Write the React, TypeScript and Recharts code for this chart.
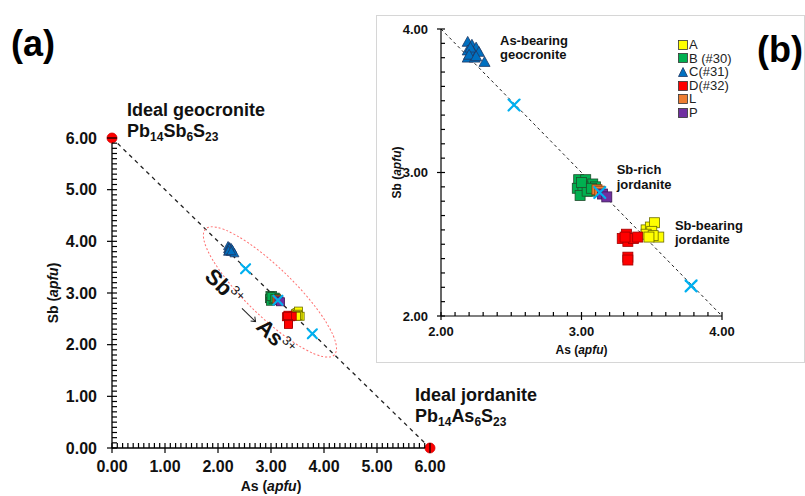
import React from 'react';
import { ScatterChart, Scatter, XAxis, YAxis, ReferenceLine, ReferenceDot } from 'recharts';

const FONT = "Arial, 'Liberation Sans', sans-serif";

// analyses as (As, Sb) in apfu
const seriesA = [
  { as: 3.46, sb: 2.6 }, { as: 3.49, sb: 2.62 }, { as: 3.52, sb: 2.65 }, { as: 3.5, sb: 2.59 },
  { as: 3.46, sb: 2.57 }, { as: 3.55, sb: 2.55 }, { as: 3.51, sb: 2.56 }, { as: 3.48, sb: 2.55 },
];
const seriesB = [
  { as: 2.98, sb: 2.95 }, { as: 3.03, sb: 2.95 }, { as: 3.08, sb: 2.92 }, { as: 2.97, sb: 2.89 },
  { as: 3.01, sb: 2.9 }, { as: 3.06, sb: 2.87 }, { as: 2.99, sb: 2.84 }, { as: 3.04, sb: 2.87 },
  { as: 3.1, sb: 2.9 }, { as: 3.0, sb: 2.93 }, { as: 3.07, sb: 2.89 },
];
const seriesC = [
  { as: 2.19, sb: 3.91 }, { as: 2.22, sb: 3.89 }, { as: 2.25, sb: 3.87 }, { as: 2.19, sb: 3.85 },
  { as: 2.23, sb: 3.84 }, { as: 2.27, sb: 3.84 }, { as: 2.19, sb: 3.8 }, { as: 2.24, sb: 3.8 },
  { as: 2.31, sb: 3.77 }, { as: 2.21, sb: 3.87 }, { as: 2.2, sb: 3.82 }, { as: 2.25, sb: 3.81 },
];
const seriesD = [
  { as: 3.29, sb: 2.54 }, { as: 3.32, sb: 2.57 }, { as: 3.33, sb: 2.52 }, { as: 3.37, sb: 2.54 },
  { as: 3.4, sb: 2.55 }, { as: 3.31, sb: 2.55 }, { as: 3.33, sb: 2.41 }, { as: 3.33, sb: 2.39 },
];
const seriesL = [{ as: 3.11, sb: 2.88 }, { as: 3.13, sb: 2.87 }];
const seriesP = [{ as: 3.15, sb: 2.85 }, { as: 3.18, sb: 2.83 }];
const calcPoints = [{ as: 2.52, sb: 3.47 }, { as: 3.13, sb: 2.86 }, { as: 3.78, sb: 2.21 }];
const idealPoints = [{ as: 0, sb: 6 }, { as: 6, sb: 0 }];

const mainMajorTicks = [0, 1, 2, 3, 4, 5, 6];
const insetMajorTicks = [2, 3, 4];

const geocroniteFormula: [string, boolean][] = [['Pb', false], ['14', true], ['Sb', false], ['6', true], ['S', false], ['23', true]];
const jordaniteFormula: [string, boolean][] = [['Pb', false], ['14', true], ['As', false], ['6', true], ['S', false], ['23', true]];

const SERIES = [
  { name: 'A', data: seriesA, fill: '#ffff00', stroke: '#6b6b00', kind: 'square' },
  { name: 'B (#30)', data: seriesB, fill: '#00b050', stroke: '#1e4d2b', kind: 'square' },
  { name: 'C(#31)', data: seriesC, fill: '#0070c0', stroke: '#1f3864', kind: 'triangle' },
  { name: 'D(#32)', data: seriesD, fill: '#ff0000', stroke: '#a00000', kind: 'square' },
  { name: 'L', data: seriesL, fill: '#ed7d31', stroke: '#7f3f10', kind: 'square' },
  { name: 'P', data: seriesP, fill: '#7030a0', stroke: '#3b1856', kind: 'square' },
];

const withMinor = (majors: number[]) => {
  const out: number[] = [];
  majors.forEach((m, i) => {
    out.push(m);
    const next = majors[i + 1];
    if (next === undefined) return;
    for (let k = 1; k < 10; k++) out.push(Math.round((m + ((next - m) * k) / 10) * 100) / 100);
  });
  return out;
};

const isMajor = (v: number) => Math.abs(v - Math.round(v)) < 1e-6;

function makeXTick(fontSize: number, labelDy: number, inner: number, outer: number) {
  return (p: any) => {
    const { x, y, payload } = p;
    const big = isMajor(payload.value);
    return (
      <g>
        <line x1={x} x2={x} y1={y - inner} y2={big ? y + outer : y} stroke="#000" strokeWidth={1.2} />
        {big && (
          <text x={x} y={y + labelDy} textAnchor="middle" fontSize={fontSize} fontWeight="bold" fontFamily={FONT} fill="#111">
            {payload.value.toFixed(2)}
          </text>
        )}
      </g>
    );
  };
}

function makeYTick(fontSize: number, labelDx: number, inner: number, outer: number) {
  return (p: any) => {
    const { x, y, payload } = p;
    const big = isMajor(payload.value);
    return (
      <g>
        <line x1={big ? x - outer : x} x2={x + inner} y1={y} y2={y} stroke="#000" strokeWidth={1.2} />
        {big && (
          <text x={x - labelDx} y={y + fontSize * 0.36} textAnchor="end" fontSize={fontSize} fontWeight="bold" fontFamily={FONT} fill="#111">
            {payload.value.toFixed(2)}
          </text>
        )}
      </g>
    );
  };
}

function markerShape(kind: string, size: number, fill: string, stroke: string) {
  return (p: any) => {
    const { cx, cy } = p;
    if (cx == null || cy == null) return <g />;
    const h = size / 2;
    if (kind === 'triangle') {
      return (
        <polygon
          points={`${cx},${cy - h} ${cx + h},${cy + h * 0.8} ${cx - h},${cy + h * 0.8}`}
          fill={fill}
          stroke={stroke}
          strokeWidth={0.8}
        />
      );
    }
    return <rect x={cx - h} y={cy - h} width={size} height={size} fill={fill} stroke={stroke} strokeWidth={0.8} />;
  };
}

function crossShape(size: number) {
  return (p: any) => {
    const { cx, cy } = p;
    const h = size / 2;
    return (
      <g stroke="#00b0f0" strokeWidth={2.2} strokeLinecap="round">
        <line x1={cx - h} y1={cy - h} x2={cx + h} y2={cy + h} />
        <line x1={cx - h} y1={cy + h} x2={cx + h} y2={cy - h} />
      </g>
    );
  };
}

const idealShape = (p: any) => <circle cx={p.cx} cy={p.cy} r={5} fill="#ff0000" stroke="#d00000" strokeWidth={0.8} />;

function FormulaText({ x, y, parts }: { x: number; y: number; parts: [string, boolean][] }) {
  return (
    <text x={x} y={y} fontFamily={FONT} fontWeight="bold" fontSize={18} fill="#111">
      {parts.map(([t, sub], i) => (
        <tspan key={i} fontSize={sub ? 12 : 18} dy={i === 0 ? 0 : sub ? 4 : -4}>
          {t}
        </tspan>
      ))}
    </text>
  );
}

function AxisTitleX({ viewBox, dy, size, label }: any) {
  const { x, y, width } = viewBox;
  return (
    <text x={x + width / 2} y={y + dy} textAnchor="middle" fontFamily={FONT} fontWeight="bold" fontSize={size} fill="#111">
      {label} (<tspan fontStyle="italic">apfu</tspan>)
    </text>
  );
}

function AxisTitleY({ viewBox, dx, size, label }: any) {
  const { x, y, width, height } = viewBox;
  const cx = x + width - dx;
  const cy = y + height / 2;
  return (
    <text
      x={cx}
      y={cy}
      transform={`rotate(-90 ${cx} ${cy})`}
      textAnchor="middle"
      dominantBaseline="central"
      fontFamily={FONT}
      fontWeight="bold"
      fontSize={size}
      fill="#111"
    >
      {label} (<tspan fontStyle="italic">apfu</tspan>)
    </text>
  );
}

function twoLines(a: string, b: string, gap: number, size: number) {
  return (p: any) => (
    <text x={p.cx} y={p.cy} fontFamily={FONT} fontWeight="bold" fontSize={size} fill="#111">
      <tspan x={p.cx}>{a}</tspan>
      <tspan x={p.cx} dy={gap}>{b}</tspan>
    </text>
  );
}

// Sb3+ -> As3+ substitution label, laid along the tie line
function SubstitutionLabel(p: any) {
  const { cx, cy } = p;
  return (
    <g transform={`rotate(44.3 ${cx} ${cy})`} fontFamily={FONT} fill="#111">
      <text x={cx - 15} y={cy + 7} textAnchor="end">
        <tspan fontSize={22} fontWeight="bold">Sb</tspan>
        <tspan fontSize={13} dy={-9}>3+</tspan>
      </text>
      <line x1={cx - 9} y1={cy + 2} x2={cx + 10} y2={cy + 2} stroke="#222" strokeWidth={1} />
      <polyline points={`${cx + 6},${cy - 1} ${cx + 10},${cy + 2} ${cx + 6},${cy + 5}`} fill="none" stroke="#222" strokeWidth={1} />
      <text x={cx + 14} y={cy + 7} textAnchor="start">
        <tspan fontSize={22} fontWeight="bold">As</tspan>
        <tspan fontSize={13} dy={-9}>3+</tspan>
      </text>
    </g>
  );
}

function MainChart() {
  const ticks = withMinor(mainMajorTicks);
  return (
    <ScatterChart width={560} height={496} margin={{ top: 138, right: 130, bottom: 0, left: 0 }}>
      <XAxis
        type="number"
        dataKey="as"
        domain={[0, 6]}
        ticks={ticks}
        interval={0}
        tickSize={0}
        tickMargin={0}
        tickLine={false}
        height={48}
        axisLine={{ stroke: '#000', strokeWidth: 1.3 }}
        tick={makeXTick(16, 24, 5, 5)}
        label={<AxisTitleX dy={43} size={14} label="As" />}
      />
      <YAxis
        type="number"
        dataKey="sb"
        domain={[0, 6]}
        ticks={ticks}
        interval={0}
        width={112}
        tickSize={0}
        tickMargin={0}
        tickLine={false}
        axisLine={{ stroke: '#000', strokeWidth: 1.3 }}
        tick={makeYTick(16, 15, 5, 5)}
        label={<AxisTitleY dx={59} size={14} label="Sb" />}
      />
      <ReferenceLine segment={[{ x: 0, y: 6 }, { x: 6, y: 0 }]} stroke="#222" strokeWidth={1.3} strokeDasharray="4 4" />
      <ReferenceDot
        x={2.98}
        y={3.02}
        shape={(p: any) => (
          <ellipse
            cx={p.cx}
            cy={p.cy}
            rx={90}
            ry={24}
            transform={`rotate(44.3 ${p.cx} ${p.cy})`}
            fill="none"
            stroke="#ff7070"
            strokeWidth={1}
            strokeDasharray="2 2"
          />
        )}
      />
      {SERIES.map((s) => (
        <Scatter
          key={s.name}
          name={s.name}
          data={s.data}
          isAnimationActive={false}
          shape={markerShape(s.kind, s.kind === 'triangle' ? 9 : 8, s.fill, s.stroke)}
        />
      ))}
      <Scatter data={calcPoints} isAnimationActive={false} shape={crossShape(9)} />
      <Scatter data={idealPoints} isAnimationActive={false} shape={idealShape} />
      <ReferenceDot x={2.6} y={2.61} shape={SubstitutionLabel} />
      <ReferenceDot
        x={0}
        y={6}
        shape={(p: any) => (
          <g>
            <text x={p.cx + 15} y={p.cy - 22} fontFamily={FONT} fontWeight="bold" fontSize={18} fill="#111">
              Ideal geocronite
            </text>
            <FormulaText x={p.cx + 15} y={p.cy - 1} parts={geocroniteFormula} />
          </g>
        )}
      />
      <ReferenceDot
        x={6}
        y={0}
        shape={(p: any) => (
          <g>
            <text x={p.cx - 15} y={p.cy - 47} fontFamily={FONT} fontWeight="bold" fontSize={18} fill="#111">
              Ideal jordanite
            </text>
            <FormulaText x={p.cx - 15} y={p.cy - 26} parts={jordaniteFormula} />
          </g>
        )}
      />
    </ScatterChart>
  );
}

function InsetChart() {
  const ticks = withMinor(insetMajorTicks);
  return (
    <div
      style={{
        position: 'absolute',
        left: 376,
        top: 15,
        width: 427,
        height: 346,
        border: '1px solid #d6d6d6',
        background: '#fff',
      }}
    >
      <ScatterChart width={427} height={346} margin={{ top: 13, right: 82, bottom: 0, left: 0 }}>
        <XAxis
          type="number"
          dataKey="as"
          domain={[2, 4]}
          ticks={ticks}
          interval={0}
          tickSize={0}
          tickMargin={0}
          tickLine={false}
          height={46}
          axisLine={{ stroke: '#000', strokeWidth: 1.2 }}
          tick={makeXTick(13, 20, 4, 4)}
          label={<AxisTitleX dy={38} size={12} label="As" />}
        />
        <YAxis
          type="number"
          dataKey="sb"
          domain={[2, 4]}
          ticks={ticks}
          interval={0}
          width={64}
          tickSize={0}
          tickMargin={0}
          tickLine={false}
          axisLine={{ stroke: '#000', strokeWidth: 1.2 }}
          tick={makeYTick(13, 13, 4, 4)}
          label={<AxisTitleY dx={44} size={12} label="Sb" />}
        />
        <ReferenceLine segment={[{ x: 2, y: 4 }, { x: 4, y: 2 }]} stroke="#222" strokeWidth={1} strokeDasharray="3 3" />
        {SERIES.map((s) => (
          <Scatter
            key={s.name}
            name={s.name}
            data={s.data}
            isAnimationActive={false}
            shape={markerShape(s.kind, s.kind === 'triangle' ? 11 : 10, s.fill, s.stroke)}
          />
        ))}
        <Scatter data={calcPoints} isAnimationActive={false} shape={crossShape(11)} />
        <ReferenceDot x={2.42} y={3.89} shape={twoLines('As-bearing', 'geocronite', 14, 13)} />
        <ReferenceDot x={3.25} y={2.99} shape={twoLines('Sb-rich', 'jordanite', 15, 13)} />
        <ReferenceDot x={3.665} y={2.6} shape={twoLines('Sb-bearing', 'jordanite', 14, 13)} />
      </ScatterChart>
      <div style={{ position: 'absolute', left: 301, top: 22, fontFamily: FONT, fontSize: 13, color: '#222' }}>
        {SERIES.map((s) => (
          <div key={s.name} style={{ display: 'flex', alignItems: 'center', height: 13.6, lineHeight: '13.6px' }}>
            <svg width={10} height={10} style={{ display: 'block' }}>
              {s.kind === 'triangle' ? (
                <polygon points="5,0.5 9.5,9.5 0.5,9.5" fill={s.fill} stroke={s.stroke} strokeWidth={0.8} />
              ) : (
                <rect x={0.5} y={0.5} width={9} height={9} fill={s.fill} stroke="#333" strokeWidth={0.8} />
              )}
            </svg>
            <span style={{ marginLeft: 1 }}>{s.name}</span>
          </div>
        ))}
      </div>
    </div>
  );
}

export default function App() {
  return (
    <div style={{ position: 'absolute', left: 0, top: 0, width: 805, height: 496, background: '#fff', overflow: 'hidden' }}>
      <MainChart />
      <InsetChart />
      <div style={{ position: 'absolute', left: 11, top: 26, fontFamily: FONT, fontWeight: 'bold', fontSize: 36, lineHeight: 1 }}>(a)</div>
      <div style={{ position: 'absolute', left: 757, top: 32, fontFamily: FONT, fontWeight: 'bold', fontSize: 36, lineHeight: 1 }}>(b)</div>
    </div>
  );
}
